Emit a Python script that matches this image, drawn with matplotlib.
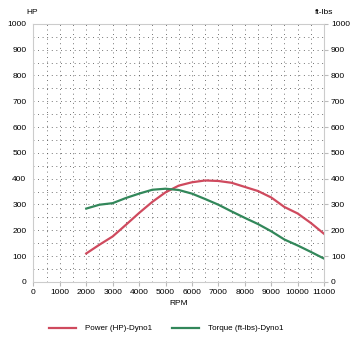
import matplotlib
matplotlib.use("Agg")
import matplotlib.pyplot as plt
from matplotlib.ticker import MultipleLocator

plt.rcParams['font.family'] = ['Liberation Sans', 'DejaVu Sans']

rpm = [2000, 2500, 3000, 3500, 4000, 4500, 5000, 5500, 6000, 6500, 7000,
       7500, 8000, 8500, 9000, 9500, 10000, 10500, 11000]
power_hp = [110, 144, 176, 221, 267, 310, 347, 373, 386, 393, 391,
            384, 368, 352, 327, 290, 265, 228, 186]
torque_ftlbs = [284, 299, 305, 325, 342, 357, 361, 356, 342, 321, 299,
                273, 248, 224, 196, 164, 141, 116, 90]

xticks = list(range(0, 11001, 1000))
yticks = list(range(0, 1001, 100))

fig = plt.figure(figsize=(3.55, 3.51), dpi=100)
ax = fig.add_axes([0.094, 0.197, 0.819, 0.735])

red = '#cf4a5e'
green = '#32875a'

l1, = ax.plot(rpm, power_hp, color=red, lw=1.6, label='Power (HP)-Dyno1')
l2, = ax.plot(rpm, torque_ftlbs, color=green, lw=1.6, label='Torque (ft-lbs)-Dyno1')

ax.set_xlim(0, 11000)
ax.set_ylim(0, 1000)
ax.set_xticks(xticks)
ax.set_yticks(yticks)
ax.xaxis.set_minor_locator(MultipleLocator(500))
ax.yaxis.set_minor_locator(MultipleLocator(50))
ax.grid(True, which='both', color='#444444', linestyle=(0, (1, 4.5)), lw=0.6)
ax.tick_params(axis='both', which='major', labelsize=6, length=3, color='#bbbbbb', pad=2)
ax.tick_params(axis='both', which='minor', length=0)
ax.tick_params(axis='y', right=True, labelright=True, left=False)
for s in ax.spines.values():
    s.set_color('#cccccc')
    s.set_linewidth(0.8)

ax.set_xlabel('RPM', fontsize=6, labelpad=3)
fig.text(0.09, 0.955, 'HP', fontsize=6, ha='center', va='bottom')
fig.text(0.912, 0.955, 'ft-lbs', fontsize=6, ha='center', va='bottom')

fig.legend(handles=[l1, l2], loc='center', bbox_to_anchor=(0.468, 0.064),
           ncol=2, frameon=False, fontsize=5.8, handlelength=3.4,
           columnspacing=2.4, handletextpad=1.1)

fig.savefig('out.png', dpi=100)
